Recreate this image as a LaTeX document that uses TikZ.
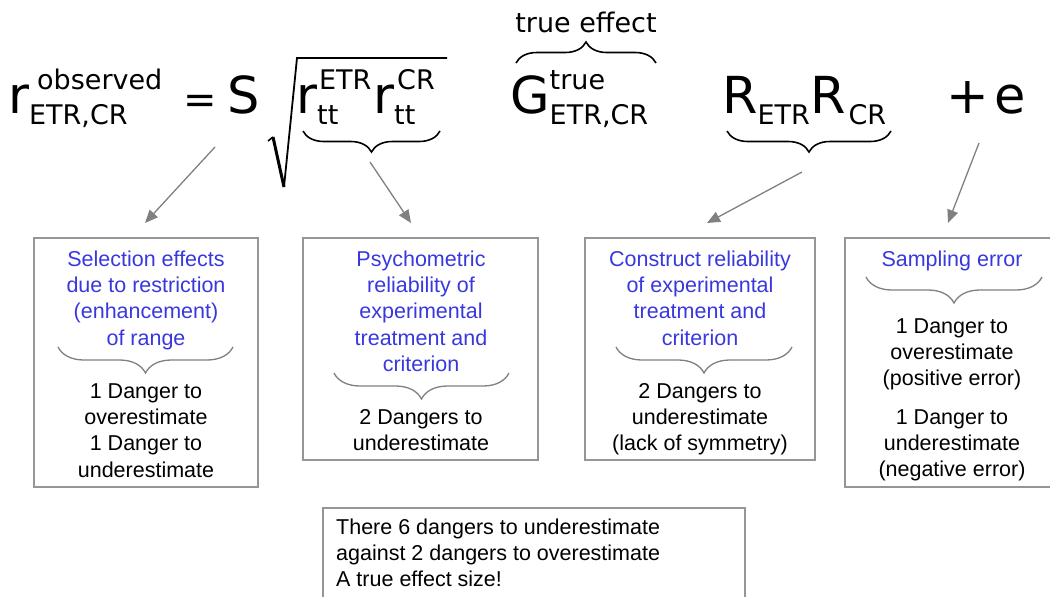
\documentclass[tikz,border=0pt]{standalone}
\usepackage{fontspec}
\setmainfont{Liberation Sans}
\newfontfamily\eqfont{DejaVu Sans}
\usetikzlibrary{arrows.meta,decorations.pathreplacing}

\definecolor{titleblue}{RGB}{56,56,222}
\definecolor{framegray}{RGB}{150,150,150}
\definecolor{arrowgray}{RGB}{128,128,128}

\newcommand{\eqscriptsize}{\fontsize{27}{27}\selectfont}
% a symbol with a superscript and a subscript:
% #1 symbol, #2 shift of the superscript, #3 superscript, #4 subscript
\newcommand{\scripted}[4]{#1%
  \rlap{\hspace{#2}\raisebox{23.5pt}{\eqscriptsize #3}}%
  \raisebox{-11pt}{\eqscriptsize #4}}
% a symbol with a subscript only
\newcommand{\subscripted}[3]{#1\hspace{#2}\raisebox{-11pt}{\eqscriptsize #3}}

\tikzset{
  eqbig/.style={font=\eqfont\fontsize{51}{51}\selectfont, inner sep=0pt, anchor=base west},
  eqsmall/.style={font=\eqfont\fontsize{27}{27}\selectfont, inner sep=0pt, anchor=base west},
  eqrel/.style={font=\eqfont\fontsize{40}{40}\selectfont, inner sep=0pt, anchor=base west},
  eqbrace/.style={decorate, decoration={brace, amplitude=21pt}, line width=1.6pt},
  boxbrace/.style={decorate, decoration={brace, amplitude=26pt}, line width=1.3pt, draw=arrowgray},
  pointer/.style={draw=arrowgray, line width=1.3pt, -{Triangle[length=13pt,width=11pt]}},
  panel/.style={draw=framegray, line width=1.2pt, inner sep=0pt},
  boxtext/.style={font=\fontsize{21.5}{26.3}\selectfont, align=center, inner sep=0pt, anchor=north},
  titletext/.style={boxtext, text=titleblue},
}
\newcommand{\firstline}{\rule{0pt}{17pt}}

\begin{document}
\begin{tikzpicture}[x=1pt,y=-1pt]
\useasboundingbox (0,0) rectangle (1050,597);
\clip (0,0) rectangle (1050,597);

% ---- the equation ----
\node[eqbig] (rObs)   at (8,113)   {\scripted{r}{8pt}{observed}{ETR,CR}};
\node[eqrel] (eqSign) at (183,113) {=};
\node[eqbig] (sTerm)  at (227,113) {S};

% radical sign
\draw[line width=1.6pt, line join=round] (268,141) -- (273,137);
\draw[line width=3pt] (273,137) -- (284,187);
\draw[line width=1.8pt, line join=miter] (284,187) -- (297,58) -- (447,58);

\node[eqbig] (rEtr) at (296,113) {\scripted{r}{2pt}{ETR}{tt}};
\node[eqbig] (rCr)  at (373,113) {\scripted{r}{3pt}{CR}{tt}};
\draw[eqbrace] (440,131) -- (303,131);

\node[eqsmall] (trueLbl) at (586,32) [anchor=base] {true effect};
\draw[eqbrace] (516,63) -- (656,63);
\node[eqbig] (gTrue) at (510,113) {\scripted{G}{0pt}{true}{ETR,CR}};

\node[eqbig] (rEtrCap) at (722,113) {\subscripted{R}{0pt}{ETR}};
\node[eqbig] (rCrCap)  at (810,113) {\subscripted{R}{3pt}{CR}};
\draw[eqbrace] (891,131) -- (727,131);

\node[eqbig] (plusSign) at (946,113) {+};
\node[eqbig] (eTerm)    at (994,113) {e};

% ---- the four panels ----
\node[panel, minimum width=224pt, minimum height=249pt] (box1) at (146,362.5) {};
\node[panel, minimum width=235pt, minimum height=222pt] (box2) at (420.5,349) {};
\node[panel, minimum width=230pt, minimum height=222pt] (box3) at (700,349) {};
\node[panel, minimum width=215pt, minimum height=249pt] (box4) at (952.5,362.5) {};

\node[titletext] (title1) at (146,249) {\firstline Selection effects\\due to restriction\\(enhancement)\\of range};
\draw[boxbrace] (233,347) -- (58,347);
\node[boxtext] (note1) at (146,381) {\firstline 1 Danger to\\overestimate\\1 Danger to\\underestimate};

\node[titletext] (title2) at (421,249) {\firstline Psychometric\\reliability of\\experimental\\treatment and\\criterion};
\draw[boxbrace] (509,373) -- (334,373);
\node[boxtext] (note2) at (421,407) {\firstline 2 Dangers to\\underestimate};

\node[titletext] (title3) at (700,249) {\firstline Construct reliability\\of experimental\\treatment and\\criterion};
\draw[boxbrace] (792,347) -- (616,347);
\node[boxtext] (note3) at (700,381) {\firstline 2 Dangers to\\underestimate\\(lack of symmetry)};

\node[titletext] (title4) at (952,249) {\firstline Sampling error};
\draw[boxbrace] (1042,277) -- (866,277);
\node[boxtext] (note4a) at (952,316) {\firstline 1 Danger to\\overestimate\\(positive error)};
\node[boxtext] (note4b) at (952,407) {\firstline 1 Danger to\\underestimate\\(negative error)};

% ---- pointers from the terms to the panels ----
\coordinate (sFoot)   at (215,147);
\coordinate (relFoot) at (370,162);
\coordinate (conFoot) at (802,172);
\coordinate (eFoot)   at (979,143);
\coordinate (in1) at (145,223);
\coordinate (in2) at (411,223);
\coordinate (in3) at (707,223);
\coordinate (in4) at (948,223);
\draw[pointer] (sFoot) -- (in1);
\draw[pointer] (relFoot) -- (in2);
\draw[pointer] (conFoot) -- (in3);
\draw[pointer] (eFoot) -- (in4);

% ---- conclusion ----
\node[panel, minimum width=422pt, minimum height=120pt] (summary) at (534,568) {};
\node[font=\fontsize{21.5}{26.3}\selectfont, align=left, inner sep=0pt, anchor=north west] (summaryText) at (336,517)
  {\firstline There 6 dangers to underestimate\\against 2 dangers to overestimate\\A true effect size!};
\end{tikzpicture}
\end{document}
